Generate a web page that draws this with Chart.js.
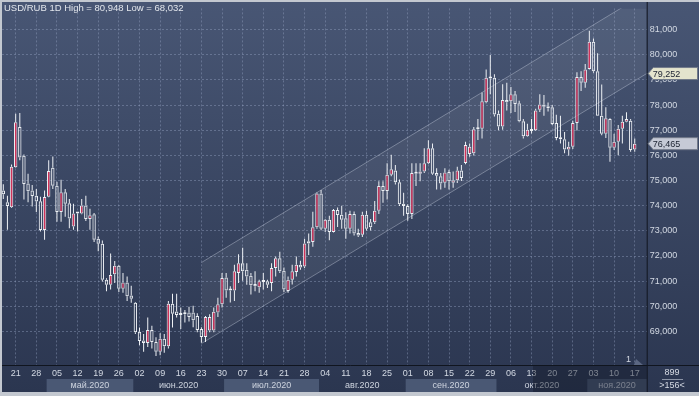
<!DOCTYPE html>
<html>
<head>
<meta charset="utf-8">
<script src="https://cdn.jsdelivr.net/npm/chart.js@4.4.1/dist/chart.umd.min.js"></script>
<style>
  html, body { margin: 0; padding: 0; background: #c3c8d0; }
  canvas { display: block; }
</style>
</head>
<body>
<canvas id="chart" width="699" height="396"></canvas>
<script>
// first trading day shown, then one candle per weekday
const startDate = '2020-04-16';

const opens = [
  74.60, 74.14, 73.94, 75.53, 77.13, 75.99, 74.88, 74.60, 74.40, 74.18,
  73.03, 74.36, 75.51, 74.79, 73.75, 74.53, 74.10, 73.17, 73.73, 73.69,
  74.01, 73.47, 73.66, 72.69, 72.49, 71.06, 70.86, 71.28, 71.61, 70.70,
  70.95, 70.43, 70.14, 68.99, 68.64, 68.54, 69.06, 68.58, 68.19, 68.71,
  68.41, 70.10, 69.79, 69.68, 69.70, 69.75, 69.75, 69.62, 69.10, 68.78,
  69.04, 69.04, 69.75, 70.08, 71.15, 70.69, 70.63, 71.32, 71.71, 71.45,
  71.22, 70.89, 70.76, 70.98, 71.00, 70.93, 71.52, 71.91, 71.41, 70.61,
  71.06, 71.36, 71.65, 71.58, 72.59, 72.56, 73.14, 74.48, 73.08, 73.44,
  72.95, 73.83, 73.64, 73.50, 73.08, 73.67, 72.91, 72.85, 73.64, 73.34,
  73.34, 73.80, 74.78, 74.58, 75.23, 75.40, 74.93, 74.08, 73.99, 73.67,
  75.30, 75.27, 75.36, 75.69, 76.28, 75.30, 75.17, 74.91, 75.34, 74.91,
  75.01, 75.40, 75.70, 76.05, 76.08, 77.04, 77.06, 78.11, 79.06, 79.09,
  77.65, 77.15, 78.20, 78.15, 78.43, 78.07, 77.36, 76.76, 77.02, 77.00,
  77.81, 78.02, 77.95, 77.91, 77.29, 76.70, 76.64, 76.23, 76.34, 77.29,
  79.12, 78.89, 79.43, 80.52, 79.34, 77.58, 76.86, 77.45, 76.30, 76.54,
  77.06, 77.34, 77.38, 76.23
];
const highs = [
  74.85, 74.40, 75.64, 77.65, 77.68, 76.03, 75.27, 74.82, 74.66, 74.36,
  74.60, 75.81, 75.96, 74.95, 75.03, 74.66, 74.27, 74.08, 73.75, 74.27,
  74.40, 73.88, 73.71, 72.78, 72.62, 71.12, 72.10, 71.80, 71.64, 71.32,
  71.19, 70.82, 70.17, 69.16, 68.90, 69.56, 69.23, 68.77, 68.93, 68.90,
  70.21, 70.50, 70.50, 69.95, 69.85, 69.98, 70.02, 69.72, 69.17, 69.62,
  69.69, 69.95, 70.34, 71.32, 71.32, 70.80, 71.65, 72.07, 72.33, 71.71,
  71.32, 71.39, 71.06, 71.32, 71.06, 71.71, 71.98, 72.17, 71.54, 71.19,
  71.65, 71.98, 71.81, 72.69, 72.89, 73.76, 74.52, 74.62, 73.47, 73.60,
  73.87, 73.93, 74.00, 73.74, 73.80, 73.77, 73.08, 73.76, 73.80, 73.47,
  74.19, 74.97, 74.97, 75.69, 76.02, 75.62, 75.04, 74.51, 74.06, 75.69,
  75.69, 75.69, 76.28, 76.60, 76.47, 75.49, 75.30, 75.49, 75.43, 75.36,
  75.55, 75.62, 76.54, 76.47, 77.13, 77.45, 78.50, 79.41, 79.99, 79.22,
  77.78, 78.83, 78.89, 78.72, 78.56, 78.17, 77.45, 77.26, 77.45, 77.85,
  78.43, 78.40, 78.10, 78.00, 77.61, 77.58, 76.93, 76.54, 77.38, 79.30,
  79.34, 79.63, 80.95, 80.65, 80.06, 78.82, 77.91, 77.48, 76.86, 77.21,
  77.58, 77.71, 77.45, 76.67
];
const lows = [
  74.27, 73.04, 73.91, 75.51, 75.81, 74.25, 74.14, 73.97, 73.75, 72.97,
  72.65, 74.34, 74.66, 73.36, 73.36, 73.56, 73.10, 73.04, 72.97, 73.66,
  73.39, 73.04, 72.56, 72.19, 70.99, 70.60, 70.67, 70.93, 70.57, 70.54,
  70.21, 70.14, 68.90, 68.45, 68.19, 68.38, 68.32, 68.03, 68.06, 68.15,
  68.32, 69.16, 69.56, 69.10, 69.36, 69.40, 69.17, 68.97, 68.55, 68.58,
  68.97, 68.97, 69.58, 69.95, 70.34, 70.15, 70.21, 70.93, 71.02, 70.86,
  70.47, 70.60, 70.54, 70.67, 70.73, 70.60, 71.19, 71.32, 70.57, 70.54,
  70.87, 71.19, 71.45, 71.52, 72.04, 72.37, 73.08, 73.02, 72.95, 72.63,
  72.93, 73.15, 73.08, 72.69, 72.89, 72.82, 72.76, 72.76, 73.01, 73.01,
  73.27, 73.67, 74.12, 74.25, 75.17, 74.84, 73.99, 73.60, 73.40, 73.47,
  74.78, 74.97, 75.30, 75.66, 75.23, 74.64, 74.64, 74.71, 74.64, 74.71,
  74.90, 74.98, 75.65, 75.95, 76.00, 76.61, 76.67, 78.07, 78.43, 77.55,
  77.00, 77.02, 77.78, 77.68, 77.72, 77.32, 76.67, 76.74, 76.87, 76.97,
  77.72, 77.58, 77.74, 77.21, 76.60, 76.47, 76.08, 75.99, 76.25, 76.99,
  78.56, 78.69, 79.41, 79.28, 77.58, 76.80, 76.69, 75.75, 76.21, 76.01,
  76.47, 77.32, 76.14, 76.14
];
const closes = [
  74.45, 73.99, 75.55, 77.32, 75.92, 74.86, 74.57, 74.39, 74.17, 73.03,
  74.35, 75.38, 74.79, 73.75, 74.53, 74.08, 73.49, 73.69, 73.69, 74.01,
  73.47, 73.62, 72.65, 72.49, 71.06, 70.86, 71.25, 71.61, 70.70, 70.95,
  70.40, 70.30, 68.97, 68.62, 68.54, 69.06, 68.58, 68.19, 68.71, 68.41,
  70.10, 69.71, 69.66, 69.66, 69.69, 69.58, 69.45, 69.06, 68.78, 69.58,
  69.58, 69.78, 70.08, 71.13, 70.63, 70.63, 71.39, 71.71, 71.39, 71.19,
  70.84, 70.80, 71.00, 70.97, 70.86, 71.52, 71.91, 71.39, 70.67, 71.06,
  71.39, 71.65, 71.54, 72.50, 72.50, 73.14, 74.48, 73.08, 73.44, 72.95,
  73.83, 73.63, 73.44, 73.08, 73.67, 72.89, 72.82, 73.64, 73.08, 73.14,
  73.80, 74.78, 74.58, 75.23, 75.45, 74.93, 74.06, 73.99, 73.67, 75.30,
  75.27, 75.36, 75.69, 76.28, 75.27, 75.19, 74.88, 75.32, 74.97, 75.01,
  75.40, 75.10, 76.41, 76.34, 77.04, 77.09, 78.15, 79.09, 79.09, 77.62,
  77.15, 78.20, 78.11, 78.43, 78.04, 77.36, 76.76, 77.02, 76.97, 77.78,
  78.02, 77.93, 77.87, 77.25, 76.69, 76.64, 76.23, 76.34, 77.29, 79.12,
  78.89, 79.41, 80.52, 79.34, 77.58, 76.86, 77.48, 76.30, 76.54, 77.06,
  77.34, 77.45, 76.21, 76.465
];

const priceTicks = [69, 70, 71, 72, 73, 74, 75, 76, 77, 78, 79, 80, 81];
const monthNames = ['янв', 'фев', 'мар', 'апр', 'май', 'июн', 'июл', 'авг', 'сен', 'окт', 'ноя', 'дек'];

// trend channel drawn on the chart (candle index -> price)
const channelX = [48, 155.9];
const channelLow = [68.52, 79.252];
const channelHigh = [71.74, 82.47];

const headerText = 'USD/RUB 1D High = 80,948 Low = 68,032';
const barsTotal = '899';
const barsShown = '>156<';

// weekday calendar for the candles
const days = [];
const cur = new Date(startDate + 'T00:00:00Z');
while (days.length < closes.length) {
    const wd = cur.getUTCDay();
    if (wd !== 0 && wd !== 6) days.push(new Date(cur));
    cur.setUTCDate(cur.getUTCDate() + 1);
}
const weekTicks = days.map((d, i) => d.getUTCDay() === 2 ? i : -1).filter(i => i >= 0);
const monthStarts = days.map((d, i) => i > 0 && d.getUTCMonth() !== days[i - 1].getUTCMonth() ? i : -1).filter(i => i >= 0);

const fmt = v => v.toFixed(3).replace('.', ',');
const FONT = '"Liberation Sans", Arial, sans-serif';
const RED = '#d0325a';
const WHITE = '#eef1f5';

const idx = closes.map((_, i) => i);
const upperWick = idx.map(i => ({ x: i, y: [Math.max(opens[i], closes[i]), highs[i]] }));
const lowerWick = idx.map(i => ({ x: i, y: [lows[i], Math.min(opens[i], closes[i])] }));
const bodies = idx.map(i => ({ x: i, y: [opens[i], closes[i]] }));

function priceMarker(ctx, xr, y, text, fill) {
    ctx.beginPath();
    ctx.moveTo(xr + 1.5, y);
    ctx.lineTo(xr + 6.5, y - 6);
    ctx.lineTo(697.5, y - 6);
    ctx.lineTo(697.5, y + 6);
    ctx.lineTo(xr + 6.5, y + 6);
    ctx.closePath();
    ctx.fillStyle = fill;
    ctx.fill();
    ctx.strokeStyle = '#737b8a';
    ctx.lineWidth = 1;
    ctx.stroke();
    ctx.fillStyle = '#1b2130';
    ctx.textAlign = 'left';
    ctx.textBaseline = 'middle';
    ctx.fillText(text, xr + 6, y + 0.5);
}

const frame = {
    id: 'frame',
    beforeDraw(chart) {
        const { ctx, chartArea: a, scales: { x } } = chart;
        ctx.save();
        ctx.fillStyle = '#c3c8d0';
        ctx.fillRect(0, 0, chart.width, chart.height);
        const g = ctx.createLinearGradient(0, 2, 0, 392);
        g.addColorStop(0, '#485674');
        g.addColorStop(1, '#2b3650');
        ctx.fillStyle = g;
        ctx.fillRect(2, 2, chart.width - 2, 390);

        // month row with alternating bands
        const bounds = [-0.5].concat(monthStarts.map(s => s - 0.5));
        ctx.font = '9px ' + FONT;
        ctx.textAlign = 'center';
        ctx.textBaseline = 'middle';
        bounds.forEach((b, k) => {
            const x0 = Math.max(a.left, x.getPixelForValue(b));
            const x1 = k + 1 < bounds.length ? x.getPixelForValue(bounds[k + 1]) : a.right;
            const d = days[Math.ceil(b)];
            const m = d.getUTCMonth();
            if (m % 2 === 0) {
                ctx.fillStyle = '#4a5874';
                ctx.fillRect(x0, 379, x1 - x0, 13);
            }
            if (x1 - x0 > 50) {
                ctx.fillStyle = '#cdd3de';
                ctx.fillText(monthNames[m] + '.' + d.getUTCFullYear(), (x0 + x1) / 2, 386);
            }
        });
        ctx.restore();
    },
    afterDraw(chart) {
        const { ctx, chartArea: a, scales: { y } } = chart;
        ctx.save();
        // shaded part of the time strip
        ctx.fillStyle = 'rgba(20, 26, 42, 0.45)';
        ctx.fillRect(533, a.bottom + 1, a.right - 533, 392 - a.bottom - 1);

        // axis frame lines
        ctx.strokeStyle = '#10151f';
        ctx.lineWidth = 1;
        ctx.beginPath();
        ctx.moveTo(a.right + 0.5, 2);
        ctx.lineTo(a.right + 0.5, 392);
        ctx.moveTo(2, a.bottom + 0.5);
        ctx.lineTo(chart.width, a.bottom + 0.5);
        ctx.stroke();

        ctx.font = '9px ' + FONT;
        ctx.textBaseline = 'middle';
        ctx.textAlign = 'center';
        ctx.fillStyle = '#d5dae3';
        ctx.fillText(barsTotal, 672, 373);
        ctx.fillText(barsShown, 672, 385.5);
        ctx.strokeStyle = '#8b94a6';
        ctx.beginPath();
        ctx.moveTo(662, 379.5);
        ctx.lineTo(683, 379.5);
        ctx.stroke();

        ctx.fillStyle = '#d5dae3';
        ctx.fillText('1', 628.5, 360);
        ctx.fillStyle = '#5b6782';
        ctx.beginPath();
        ctx.moveTo(634, 365);
        ctx.lineTo(643, 365);
        ctx.lineTo(636, 359);
        ctx.closePath();
        ctx.fill();

        // price markers on the right scale
        priceMarker(ctx, a.right, y.getPixelForValue(channelLow[1]), fmt(channelLow[1]), '#e4e4cd');
        priceMarker(ctx, a.right, y.getPixelForValue(closes[closes.length - 1]), fmt(closes[closes.length - 1]), '#c6cad6');

        ctx.font = '9.5px ' + FONT;
        ctx.textAlign = 'left';
        ctx.fillStyle = '#e2e6ec';
        ctx.fillText(headerText, 4, 8.5);
        ctx.restore();
    }
};

const gridColor = 'rgba(150, 165, 195, 0.42)';
const tickColor = '#d3d9e3';

new Chart(document.getElementById('chart'), {
    type: 'bar',
    data: {
        datasets: [
            {
                type: 'line',
                data: channelX.map((v, i) => ({ x: v, y: channelLow[i] })),
                borderColor: 'rgba(205, 213, 228, 0.4)',
                borderWidth: 1,
                pointRadius: 0,
                fill: false,
                order: 3
            },
            {
                type: 'line',
                data: channelX.map((v, i) => ({ x: v, y: channelHigh[i] })),
                borderColor: 'rgba(205, 213, 228, 0.4)',
                borderWidth: 1,
                pointRadius: 0,
                fill: '-1',
                backgroundColor: 'rgba(255, 255, 255, 0.06)',
                order: 3
            },
            {
                data: upperWick,
                backgroundColor: WHITE,
                barThickness: 1,
                grouped: false,
                inflateAmount: 0,
                order: 1
            },
            {
                data: lowerWick,
                backgroundColor: WHITE,
                barThickness: 1,
                grouped: false,
                inflateAmount: 0,
                order: 1
            },
            {
                data: bodies,
                backgroundColor: idx.map(i => closes[i] > opens[i] ? RED : 'rgba(0,0,0,0)'),
                borderColor: WHITE,
                borderWidth: 1,
                borderSkipped: false,
                barThickness: 3.4,
                minBarLength: 2,
                grouped: false,
                inflateAmount: 0,
                order: 0
            }
        ]
    },
    options: {
        responsive: false,
        animation: false,
        devicePixelRatio: 1,
        layout: { padding: { left: 2, top: 3, right: 0, bottom: 4 } },
        plugins: { legend: { display: false }, tooltip: { enabled: false } },
        scales: {
            x: {
                type: 'linear',
                min: -0.315,
                max: 155.9,
                offset: false,
                afterBuildTicks: s => { s.ticks = weekTicks.map(v => ({ value: v })); },
                afterFit: s => { s.height = 27; },
                ticks: {
                    autoSkip: false,
                    maxRotation: 0,
                    padding: 3,
                    color: tickColor,
                    font: { family: FONT, size: 9 },
                    callback: v => String(days[v].getUTCDate()).padStart(2, '0')
                },
                grid: { color: gridColor, drawTicks: false, offset: false },
                border: { display: false, dash: [2, 2] }
            },
            y: {
                position: 'right',
                min: 67.668,
                max: 81.842,
                afterBuildTicks: s => { s.ticks = priceTicks.map(v => ({ value: v })); },
                afterFit: s => { s.width = 52.3; },
                ticks: {
                    padding: 3,
                    color: tickColor,
                    font: { family: FONT, size: 9 },
                    callback: v => fmt(v)
                },
                grid: { color: gridColor, drawTicks: false },
                border: { display: false, dash: [2, 2] }
            }
        }
    },
    plugins: [frame]
});
</script>
</body>
</html>
